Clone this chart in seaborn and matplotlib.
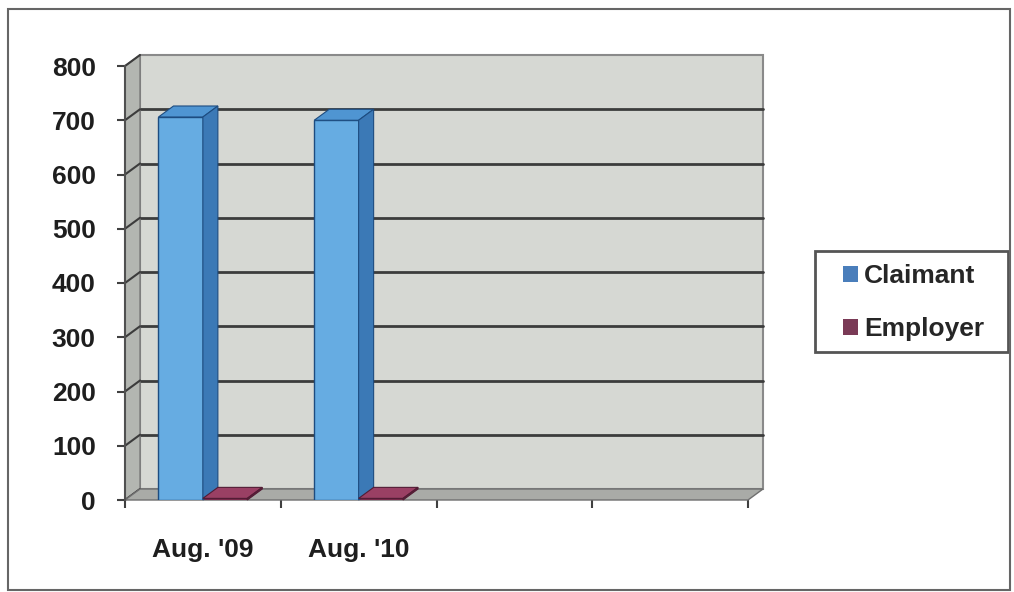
import numpy as np
import pandas as pd
import seaborn as sns
import matplotlib
matplotlib.use("Agg")
import matplotlib.pyplot as plt
from matplotlib.patches import Polygon, Rectangle, Patch
from matplotlib.transforms import ScaledTranslation, IdentityTransform

# ---- data -------------------------------------------------------------
periods = ["Aug. '09", "Aug. '10"]
series = ["Claimant", "Employer"]
claimant = [706, 700]
employer = [3, 3]
slots = periods + ["", " "]          # two unused category slots on the right
y_ticks = [0, 100, 200, 300, 400, 500, 600, 700, 800]

df = pd.DataFrame({
    "Period": periods * 2,
    "Series": [series[0]] * len(periods) + [series[1]] * len(periods),
    "Count": claimant + employer,
})

# ---- style ------------------------------------------------------------
sns.set_theme(style="white")
plt.rcParams["font.family"] = ["Liberation Sans", "DejaVu Sans"]
plt.rcParams["font.weight"] = "bold"

W, H, DPI = 1014, 592, 100
DX, DY = 15, 11                      # depth offset of the 3-D box, pixels

front_col = {"Claimant": "#66ace2", "Employer": "#8c3358"}
top_col = {"Claimant": "#4f95d2", "Employer": "#9a4064"}
side_col = {"Claimant": "#3b79b6", "Employer": "#6b2543"}
edge_col = {"Claimant": "#1d4c80", "Employer": "#521c34"}
legend_col = {"Claimant": "#4a7ebb", "Employer": "#7a3a56"}

fig = plt.figure(figsize=(W / DPI, H / DPI), dpi=DPI)
ax = fig.add_axes([125 / W, (H - 500) / H, (748 - 125) / W, (500 - 66) / H])
ax.patch.set_visible(False)

sns.barplot(
    data=df, x="Period", y="Count", hue="Series",
    order=slots, hue_order=series,
    palette=[front_col[s] for s in series],
    width=0.57, saturation=1, linewidth=1,
    legend=False, ax=ax, zorder=3,
)
bars = list(ax.patches)

ax.set_xlim(-0.5, len(slots) - 0.5)
ax.set_ylim(y_ticks[0], y_ticks[-1])
x0, x1 = ax.get_xlim()
ymax = y_ticks[-1]

depth = ScaledTranslation(DX / DPI, DY / DPI, fig.dpi_scale_trans)
back = ax.transData + depth


def disp(x, y, d=0.0):
    p = ax.transData.transform((x, y))
    return (p[0] + d * DX, p[1] + d * DY)


def face(points, fc, ec, z, lw=0.8):
    poly = Polygon(points, closed=True, facecolor=fc, edgecolor=ec,
                   linewidth=lw, transform=IdentityTransform(), zorder=z,
                   clip_on=False)
    ax.add_artist(poly)


# back wall
ax.add_patch(Rectangle((x0, 0), x1 - x0, ymax, transform=back,
                       facecolor="#d6d8d3", edgecolor="#8a8a8a",
                       linewidth=1.5, zorder=0.5, clip_on=False))
for v in y_ticks[1:-1]:
    ax.plot([x0, x1], [v, v], transform=back, color="#3c3c3c",
            linewidth=2, zorder=0.6, clip_on=False)

# side wall with its grid segments
face([disp(x0, 0), disp(x0, ymax), disp(x0, ymax, 1), disp(x0, 0, 1)],
     "#b3b6b1", "#7a7a7a", 0.7, lw=1)
for v in y_ticks:
    a, b = disp(x0, v), disp(x0, v, 1)
    ax.add_artist(plt.Line2D([a[0], b[0]], [a[1], b[1]], color="#3c3c3c",
                             linewidth=1.5, transform=IdentityTransform(),
                             zorder=0.75, clip_on=False))

# floor
face([disp(x0, 0), disp(x1, 0), disp(x1, 0, 1), disp(x0, 0, 1)],
     "#a9aba7", "#6f6f6f", 0.8, lw=1)

# 3-D faces for every bar, built from the bar geometry
for i, bar in enumerate(bars):
    s = series[i // len(periods)]
    bx, bw, bh = bar.get_x(), bar.get_width(), bar.get_height()
    if not np.isfinite(bh):
        continue
    bar.set_edgecolor(edge_col[s])
    bar.set_zorder(3)
    face([disp(bx, bh), disp(bx + bw, bh), disp(bx + bw, bh, 1),
          disp(bx, bh, 1)], top_col[s], edge_col[s], 3.1)
    face([disp(bx + bw, 0), disp(bx + bw, bh), disp(bx + bw, bh, 1),
          disp(bx + bw, 0, 1)], side_col[s], edge_col[s], 3.1)

# axes: front left line, ticks and labels
for name, sp in ax.spines.items():
    sp.set_visible(name == "left")
ax.spines["left"].set_color("#505050")
ax.spines["left"].set_linewidth(1.5)
ax.spines["left"].set_zorder(1)

ax.set_yticks(y_ticks)
ax.set_yticklabels([str(v) for v in y_ticks])
ax.tick_params(axis="y", left=True, length=6, width=1.5, color="#404040",
               pad=15, labelsize=19, labelcolor="#1e1e1e")

ax.set_xticks(range(len(periods)))
ax.set_xticklabels(periods)
ax.set_xticks([x0 + k for k in range(len(slots) + 1)], minor=True)
ax.tick_params(axis="x", which="major", bottom=False, length=0, pad=27,
               labelsize=19, labelcolor="#1e1e1e")
ax.tick_params(axis="x", which="minor", bottom=True, length=6, width=1.5,
               color="#404040")
ax.set_xlabel("")
ax.set_ylabel("")
ax.grid(False)

# legend in its own framed box
fig.add_artist(Rectangle((815 / W, 1 - 352 / H), 193 / W, 101 / H,
                         transform=fig.transFigure, fill=False,
                         edgecolor="#555555", linewidth=2))
handles = [Patch(facecolor=legend_col[s], edgecolor="none") for s in series]
fig.legend(handles, series, loc="upper left",
           bbox_to_anchor=(843 / W, 1 - 264 / H), frameon=False,
           prop={"weight": "bold", "size": 19},
           handlelength=0.55, handleheight=0.55, handletextpad=0.25,
           labelspacing=1.1, borderpad=0, borderaxespad=0)

# outer chart border
fig.add_artist(Rectangle((8 / W, 1 - 590 / H), (1010 - 8) / W, (590 - 9) / H,
                         transform=fig.transFigure, fill=False,
                         edgecolor="#666666", linewidth=1.5))

fig.savefig("out.png", dpi=DPI)
